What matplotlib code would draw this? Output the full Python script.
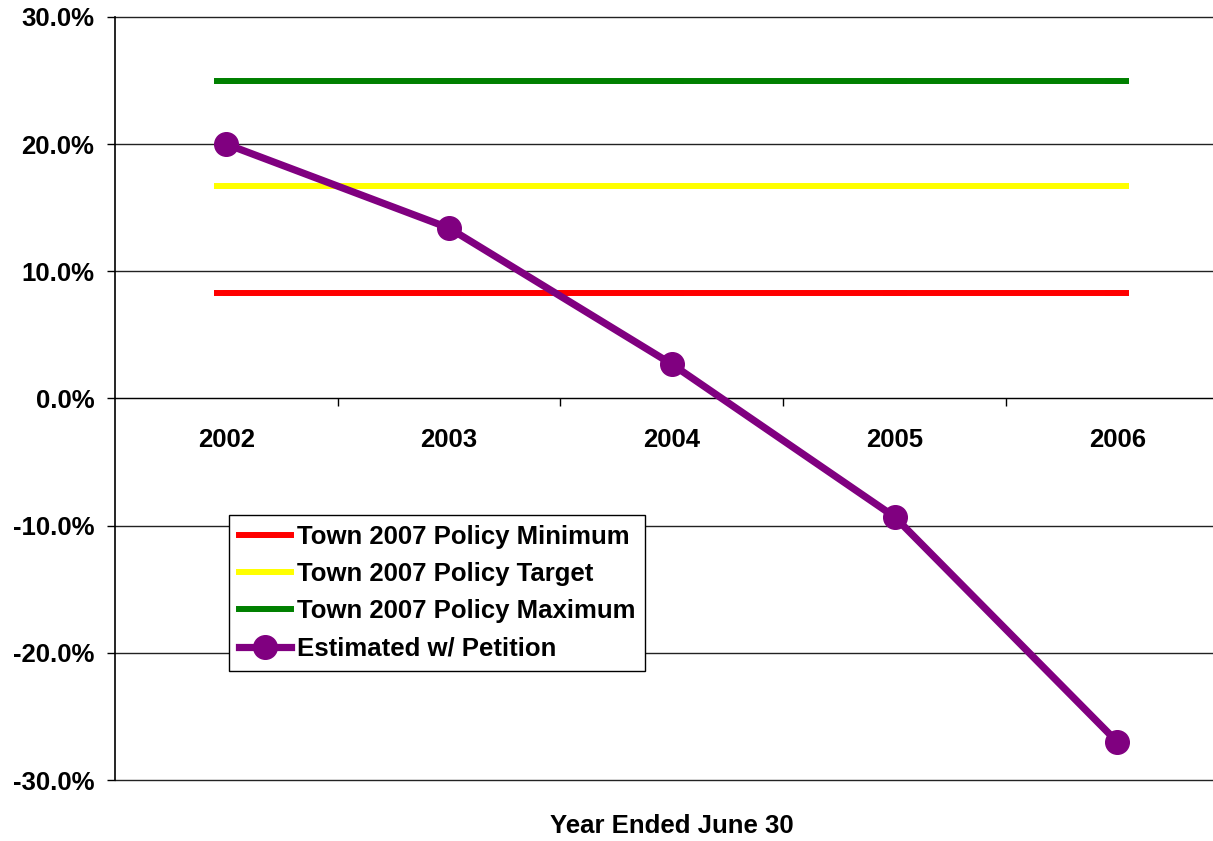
#reserve ratio chart vs town policy

import matplotlib
matplotlib.use("Agg")
import matplotlib.pyplot as plt
from matplotlib.ticker import FuncFormatter, FixedLocator

plt.rcParams['font.family'] = ['Liberation Sans', 'DejaVu Sans']
plt.rcParams['font.weight'] = 'bold'

#data
years = ['2002', '2003', '2004', '2005', '2006']
policy_min = [8.33, 8.33, 8.33, 8.33, 8.33]
policy_target = [16.7, 16.7, 16.7, 16.7, 16.7]
policy_max = [25.0, 25.0, 25.0, 25.0, 25.0]
estimated = [20.0, 13.4, 2.7, -9.3, -27.0]

x = list(range(len(years)))
fs = 18.5

fig = plt.figure(figsize=(12.13, 8.41), dpi=100)
ax = fig.add_axes([115/1213, 1 - 780/841, 1 - 115/1213, (780 - 17)/841])

#policy lines, the '_' marker gives the little overhang at each end like excel
ax.plot(x, policy_min, color='#FF0000', lw=4.3, marker='_', ms=17, mew=4.3,
        label='Town 2007 Policy Minimum', zorder=3)
ax.plot(x, policy_target, color='#FFFF00', lw=4.3, marker='_', ms=17, mew=4.3,
        label='Town 2007 Policy Target', zorder=3)
ax.plot(x, policy_max, color='#008000', lw=4.3, marker='_', ms=17, mew=4.3,
        label='Town 2007 Policy Maximum', zorder=3)
ax.plot(x, estimated, color='#800080', lw=5.2, marker='o', ms=17,
        label='Estimated w/ Petition', zorder=4)

ax.set_xlim(-0.5, 4.43)
ax.set_ylim(-30, 30)
ax.set_yticks([-30, -20, -10, 0, 10, 20, 30])
ax.yaxis.set_major_formatter(FuncFormatter(lambda v, p: f"{v:.1f}%"))
ax.yaxis.grid(True, color='#222222', lw=1)
for gl in ax.get_ygridlines():
    gl.set_clip_on(False)
ax.set_axisbelow(True)

#category axis sits at zero
ax.spines['bottom'].set_position(('data', 0))
ax.spines['top'].set_visible(False)
ax.spines['right'].set_visible(False)
ax.spines['left'].set_linewidth(1.2)
ax.set_xticks(x)
ax.set_xticklabels(years)
ax.xaxis.set_minor_locator(FixedLocator([0.5, 1.5, 2.5, 3.5]))
ax.tick_params(axis='x', which='major', length=0, pad=21, labelsize=fs)
ax.tick_params(axis='x', which='minor', length=6, direction='out', width=1)
ax.tick_params(axis='y', length=6, width=1, labelsize=fs, pad=9)

fig.text(672/1213, 1 - 826/841, 'Year Ended June 30', ha='center', va='center',
         fontsize=fs, fontweight='bold')

leg = ax.legend(loc='upper left', bbox_to_anchor=(229/1213, 1 - 515/841),
                bbox_transform=fig.transFigure, fontsize=fs, frameon=True,
                fancybox=False, edgecolor='black', framealpha=1,
                handlelength=2.05, handletextpad=0.2, labelspacing=0.52,
                borderpad=0.38, borderaxespad=0)
leg.get_frame().set_linewidth(1)
leg.set_zorder(5)

plt.savefig('out.png', dpi=100)
